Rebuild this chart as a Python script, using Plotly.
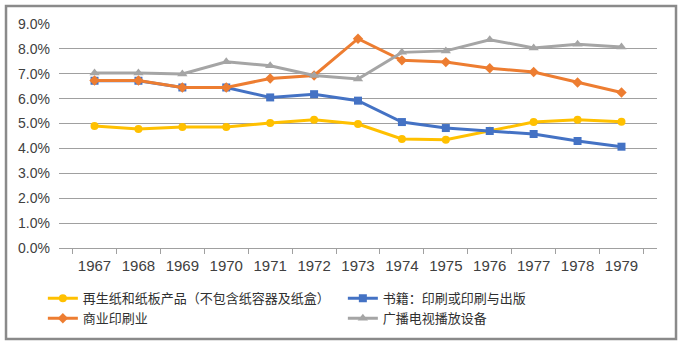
import plotly.graph_objects as go

years = ["1967", "1968", "1969", "1970", "1971", "1972", "1973",
         "1974", "1975", "1976", "1977", "1978", "1979"]

paper_products = [4.90, 4.78, 4.86, 4.86, 5.02, 5.15, 4.98, 4.38, 4.35, 4.71, 5.06, 5.15, 5.07]
books = [6.72, 6.72, 6.45, 6.45, 6.05, 6.18, 5.92, 5.06, 4.82, 4.70, 4.58, 4.30, 4.07]
commercial_printing = [6.73, 6.73, 6.45, 6.45, 6.81, 6.93, 8.41, 7.54, 7.47, 7.22, 7.07, 6.65, 6.25]
broadcast_equipment = [7.03, 7.03, 6.99, 7.48, 7.32, 6.93, 6.79, 7.86, 7.92, 8.37, 8.04, 8.19, 8.08]

series_names = [
    "再生纸和纸板产品（不包含纸容器及纸盒）",
    "书籍：印刷或印刷与出版",
    "商业印刷业",
    "广播电视播放设备",
]

series = [
    (series_names[0], paper_products, "#FFC000", "circle", 8),
    (series_names[1], books, "#4472C4", "square", 8),
    (series_names[2], commercial_printing, "#ED7D31", "diamond", 8),
    (series_names[3], broadcast_equipment, "#A5A5A5", "triangle-up", 9),
]

fig = go.Figure()
for name, vals, color, symbol, msize in series:
    fig.add_trace(go.Scatter(
        x=years, y=vals, name=name, mode="lines+markers",
        line=dict(color=color, width=3),
        marker=dict(color=color, symbol=symbol, size=msize),
    ))

fig.update_layout(
    width=681, height=342,
    margin=dict(l=59, r=24, t=24, b=94, autoexpand=False),
    paper_bgcolor="white", plot_bgcolor="white",
    font=dict(family="Liberation Sans, Arial, sans-serif", color="#404040"),
    xaxis=dict(
        type="category", tickson="boundaries", ticks="outside", ticklen=5,
        tickcolor="#A0A0A0", showline=True, linecolor="#A0A0A0", linewidth=1,
        showgrid=False, tickfont=dict(size=15, color="#404040"),
        ticklabelstandoff=4, fixedrange=True,
    ),
    yaxis=dict(
        range=[0, 9], dtick=1, tickformat=".1f", ticksuffix="%",
        showgrid=True, gridcolor="#A0A0A0", gridwidth=1, zeroline=False,
        showline=False, tickfont=dict(size=14, color="#404040"),
        ticklabelstandoff=8, fixedrange=True,
    ),
    legend=dict(
        orientation="h", x=-0.027, y=-0.158, xanchor="left", yanchor="top",
        entrywidth=255, entrywidthmode="pixels", tracegroupgap=0,
        font=dict(family="Noto Sans CJK SC", size=13, color="#303030"),
        traceorder="normal", itemwidth=30,
    ),
    showlegend=True,
)

# Outer chart frame around plot and legend
fig.add_shape(
    type="rect", xref="x domain", yref="y domain",
    x0=-0.0886, x1=1.0318, y0=-0.406, y1=1.080,
    line=dict(color="#8A8A8A", width=2.5), layer="above",
)

fig.write_html("out.html")
